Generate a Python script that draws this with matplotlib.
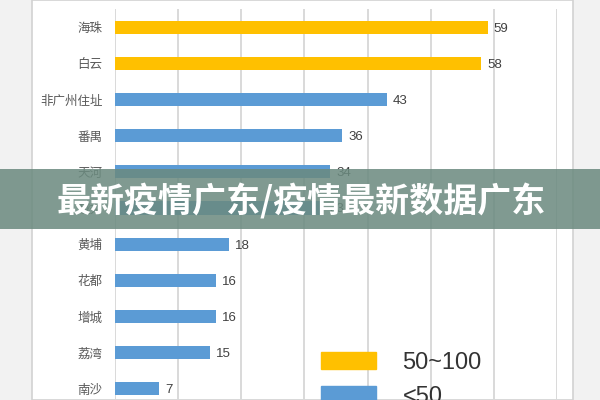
import matplotlib
matplotlib.use('Agg')
import matplotlib.pyplot as plt
import matplotlib.patches as mpatches

plt.rcParams['font.family'] = ['Noto Sans CJK SC', 'DejaVu Sans']

# 数据
districts = ['海珠', '白云', '非广州住址', '番禺', '天河', '越秀', '黄埔', '花都', '增城', '荔湾', '南沙']
cases = [59, 58, 43, 36, 34, 33, 18, 16, 16, 15, 7]
legend_labels = ['50~100', '<50']
title_text = '最新疫情广东/疫情最新数据广东'

yellow = '#FFC000'
blue = '#5B9BD5'
colors = [yellow if v >= 50 else blue for v in cases]

fig = plt.figure(figsize=(6, 4), dpi=100)
fig.patch.set_facecolor('#f2f2f2')

# 白色卡片背景
card = mpatches.Rectangle((32 / 600, 0), (573 - 32) / 600, 1, transform=fig.transFigure,
                          facecolor='white', edgecolor='#d2d2d2', linewidth=1.2, zorder=-5)
fig.patches.append(card)

# 坐标轴位置 (像素换算)
ax = fig.add_axes([115 / 600, -0.0175, (557 - 115) / 600, 0.995])
ax.set_facecolor('none')

y = list(range(len(districts)))
ax.barh(y, cases, height=0.36, color=colors, zorder=2)
ax.set_xlim(0, 70)
ax.set_ylim(len(districts) - 0.5, -0.5)

ax.set_xticks(range(0, 71, 10))
ax.xaxis.grid(True, color='#d9d9d9', linewidth=1.4, zorder=0)
ax.set_axisbelow(True)
ax.tick_params(axis='x', which='both', length=0, labelbottom=False)
ax.tick_params(axis='y', length=0, pad=9, labelsize=9, labelcolor='#595959')
ax.set_yticks(y)
ax.set_yticklabels(districts)
for s in ax.spines.values():
    s.set_visible(False)

for yi, v in zip(y, cases):
    ax.text(v + 1.0, yi, str(v), va='center_baseline', ha='left', fontsize=9.5, color='#404040',
            family=['Liberation Sans', 'DejaVu Sans'])

# 图例
handles = [mpatches.Patch(color=yellow, label=legend_labels[0]),
           mpatches.Patch(color=blue, label=legend_labels[1])]
fig.legend(handles=handles, loc='upper left', bbox_to_anchor=(321 / 600, 1 - 352 / 400),
           frameon=False, borderpad=0, borderaxespad=0,
           handlelength=2.35, handleheight=0.72, handletextpad=1.1, labelspacing=0.5,
           labelcolor='#333333', prop={'family': ['Liberation Sans', 'DejaVu Sans'], 'size': 17})

# 标题横幅
banner = mpatches.Rectangle((0, 1 - 229 / 400), 1, 60 / 400, transform=fig.transFigure,
                            facecolor='#6b8a7f', alpha=0.86, edgecolor='none', zorder=10)
fig.patches.append(banner)
fig.text(0.502, 1 - 201 / 400, title_text, ha='center', va='center', fontsize=24.5,
         fontweight='heavy', color='white', zorder=11)

fig.savefig('out.png', dpi=100, facecolor=fig.get_facecolor())
